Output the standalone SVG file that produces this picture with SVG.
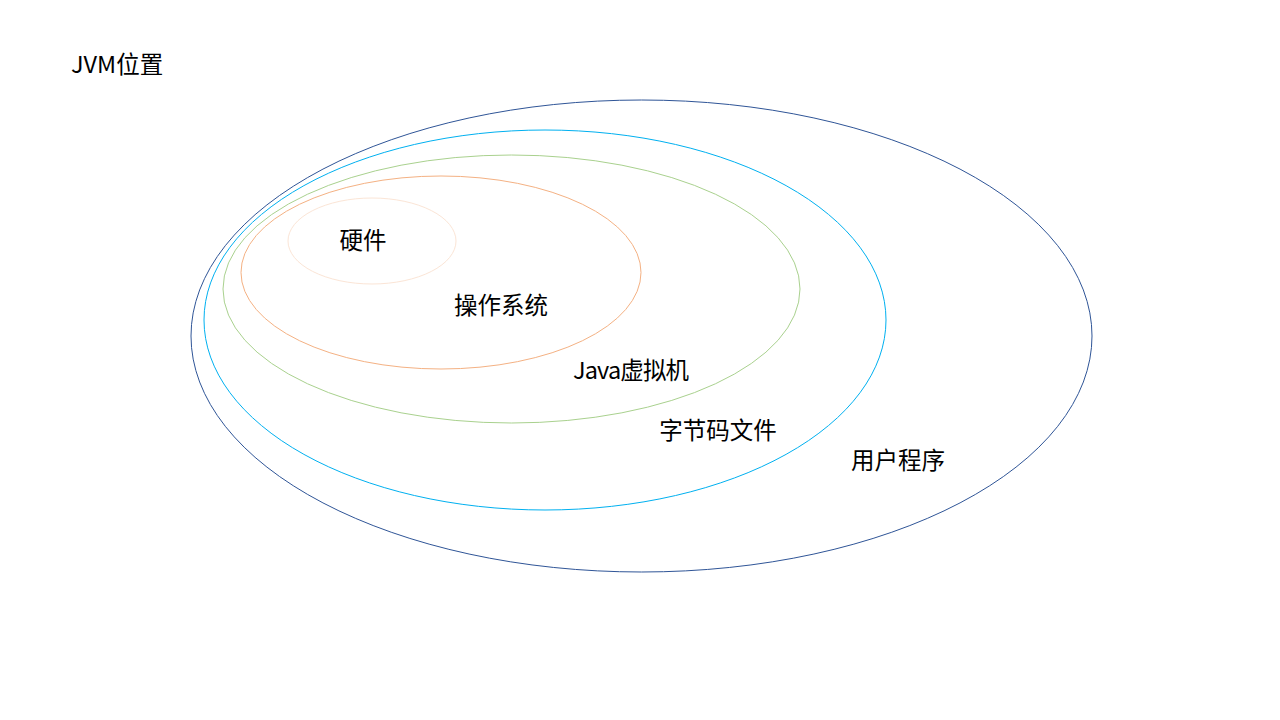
<svg xmlns="http://www.w3.org/2000/svg" width="1280" height="720" viewBox="0 0 1280 720">
<style>
.e{fill:none;stroke-width:1}
text{font-family:"Microsoft YaHei","Noto Sans CJK SC",sans-serif;font-size:23.5px;fill:#000}
</style>
<rect width="1280" height="720" fill="#fff"/>
<text x="71" y="73">JVM位置</text>
<g id="user"><ellipse class="e" cx="641.5" cy="336" rx="450.5" ry="236" stroke="#2F5597"/><text x="898" y="469" text-anchor="middle">用户程序</text></g>
<g id="bytecode"><ellipse class="e" cx="545" cy="320" rx="341" ry="190" stroke="#00B0F0"/><text x="718" y="439" text-anchor="middle">字节码文件</text></g>
<g id="jvm"><ellipse class="e" cx="511.5" cy="289" rx="288.5" ry="134" stroke="#A9D18E"/><text x="631" y="379" text-anchor="middle" textLength="116">Java虚拟机</text></g>
<g id="os"><ellipse class="e" cx="441" cy="272.5" rx="200" ry="96.5" stroke="#F4B183"/><text x="501" y="314" text-anchor="middle">操作系统</text></g>
<g id="hw"><ellipse class="e" cx="372" cy="241" rx="84" ry="43" stroke="#FBE5D6"/><text x="363" y="249" text-anchor="middle">硬件</text></g>
<g id="connectors"/>
</svg>
